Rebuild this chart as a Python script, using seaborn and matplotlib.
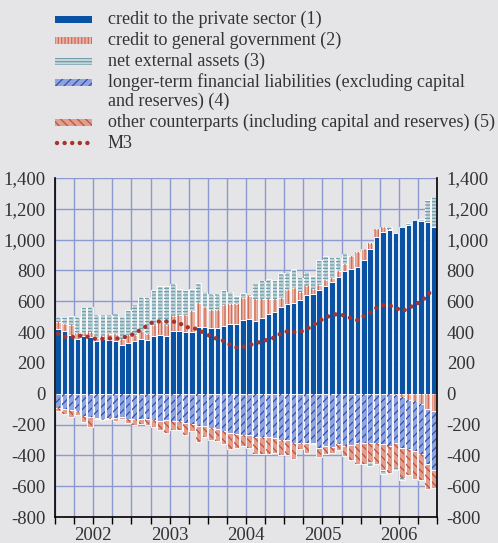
import numpy as np
import pandas as pd
import matplotlib.pyplot as plt
import seaborn as sns
from matplotlib.patches import Rectangle
from matplotlib.lines import Line2D

# Dados mensais (jan 2002 - dez 2006), fluxos anuais em EUR bilhões
anos = ['2002', '2003', '2004', '2005', '2006']

credito_privado = [421, 410, 382, 356, 374, 367, 339, 356, 350, 345, 319, 330,
                   339, 356, 350, 374, 382, 374, 404, 408, 400, 400, 436, 432,
                   426, 425, 441, 454, 454, 480, 486, 469, 493, 519, 530, 562,
                   584, 588, 606, 638, 649, 675, 699, 725, 758, 797, 812, 823,
                   866, 942, 1018, 1051, 1061, 1044, 1079, 1094, 1127, 1120, 1116, 1083]

credito_governo = [44, 44, 61, 39, 21, 33, 22, 18, 39, 44, 37, 48,
                   43, 48, 39, 69, 93, 75, 100, 105, 114, 138, 152, 133,
                   119, 120, 136, 126, 131, 143, 148, 143, 119, 93, 82, 61,
                   87, 98, 54, 59, 33, 33, 37, 28, 37, 47, 80, 97,
                   76, 33, 48, 32, 9, -10, -20, -40, -45, -65, -100, -110]

ativos_externos = [32, 37, 59, 102, 161, 162, 151, 138, 123, 130, 141, 163,
                   191, 223, 234, 232, 222, 248, 210, 167, 161, 144, 128, 93,
                   104, 104, 93, 80, 49, 33, 8, 102, 119, 130, 128, 163,
                   119, 121, 93, 93, 80, 158, 156, 131, 89, 61, 0, 0,
                   0, -28, 0, -26, 13, -11, -13, 11, 0, 13, 141, 195]

passivos_longo_prazo = [-93, -100, -106, -111, -143, -150, -158, -165, -158, -158, -154, -161,
                        -161, -165, -165, -171, -176, -172, -176, -180, -187, -197, -208, -208,
                        -224, -230, -241, -258, -263, -269, -269, -278, -284, -284, -289, -302,
                        -302, -317, -321, -317, -317, -349, -339, -343, -328, -339, -332, -321,
                        -321, -317, -321, -328, -339, -311, -329, -321, -329, -326, -354, -386]

outras_contrapartidas = [-22, -32, -44, -26, -39, -65, -7, -6, -4, -22, -7, -30,
                         -43, -32, -39, -42, -61, -84, -61, -58, -82, -48, -105, -70,
                         -76, -80, -87, -102, -86, -70, -85, -115, -109, -109, -97, -95,
                         -95, -104, -39, -65, -11, -59, -49, -43, -37, -65, -100, -133,
                         -133, -124, -137, -165, -173, -163, -200, -167, -181, -169, -167, -117]

m3 = [389, 371, 367, 372, 380, 364, 355, 356, 360, 356, 364, 373,
      390, 417, 442, 469, 469, 469, 469, 460, 432, 430, 415, 394,
      371, 356, 343, 318, 300, 303, 316, 326, 342, 351, 365, 391,
      405, 400, 402, 418, 444, 472, 495, 511, 518, 507, 490, 477,
      503, 524, 557, 574, 573, 558, 536, 553, 580, 596, 643, 682]

legendas = ['credit to the private sector (1)',
            'credit to general government (2)',
            'net external assets (3)',
            'longer-term financial liabilities (excluding capital',
            'other counterparts (including capital and reserves) (5)',
            'M3']
legenda_extra = 'and reserves) (4)'

# Cores
FUNDO = '#e5e5e7'
GRADE = '#8c99cf'
AZUL = '#0a52a3'
GOV_F, GOV_H = '#e8b3a4', '#cf6c58'
EXT_F, EXT_H = '#c3d5da', '#6f9daa'
LTFL_F, LTFL_H = '#90a3dc', '#2b52b8'
OUT_F, OUT_H = '#df9e8e', '#c1503d'
VERM = '#a8322d'
TEXTO = '#333333'

sns.set_style('white')
plt.rcParams['font.family'] = ['Liberation Serif', 'DejaVu Serif']
plt.rcParams['hatch.linewidth'] = 0.9

df = pd.DataFrame({'privado': credito_privado, 'governo': credito_governo,
                   'externo': ativos_externos, 'ltfl': passivos_longo_prazo,
                   'outras': outras_contrapartidas, 'm3': m3})
x = np.arange(len(df))

gov = df['governo'].to_numpy()
gov_pos = np.clip(gov, 0, None)
gov_neg = np.clip(gov, None, 0)
ltfl = df['ltfl'].to_numpy()
outras = df['outras'].to_numpy()
ext = df['externo'].to_numpy()
privado = df['privado'].to_numpy()

base_gov = np.where(gov >= 0, privado, 0)
base_ltfl = gov_neg
base_outras = gov_neg + ltfl
base_ext = np.where(ext >= 0, privado + gov_pos, gov_neg + ltfl + outras)

W, H = 498, 543
fig = plt.figure(figsize=(W / 100, H / 100), dpi=100, facecolor=FUNDO)
ax = fig.add_axes([55 / W, 1 - 517 / H, 382 / W, 339 / H], facecolor=FUNDO)

LARG = 0.86
sns.barplot(x=x, y=privado, color=AZUL, saturation=1, width=LARG,
            edgecolor='white', linewidth=0.6, ax=ax, zorder=2)


def barras(vals, base, face, hatch, hcor):
    m = vals != 0
    ax.bar(x[m], vals[m], bottom=base[m], width=LARG, color=face,
           edgecolor='white', linewidth=0.6, zorder=2)
    ax.bar(x[m], vals[m], bottom=base[m], width=LARG - 0.2, color='none',
           edgecolor=hcor, hatch=hatch, linewidth=0, zorder=3)


barras(gov, base_gov, GOV_F, '|||||', GOV_H)
barras(ext, base_ext, EXT_F, '-----', EXT_H)
barras(ltfl, base_ltfl, LTFL_F, '////', LTFL_H)
barras(outras, base_outras, OUT_F, '\\\\\\\\', OUT_H)

PONTOS = (0, (0.01, 1.7))
sns.lineplot(x=x, y=df['m3'], color=VERM, linewidth=3.2, ax=ax, zorder=5)
linha = ax.lines[-1]
linha.set_linestyle(PONTOS)
linha.set_dash_capstyle('round')

ax.set_xlim(-0.5, 59.5)
ax.set_ylim(-800, 1400)
ax.set_xlabel('')
ax.set_ylabel('')

yt = np.arange(-800, 1401, 200)
ax.set_yticks(yt)
ax.set_yticklabels([f'{v:,}' for v in yt])
ax.tick_params(axis='y', left=False, right=False, length=0, labelleft=True,
               labelright=True, labelsize=13.5, pad=7, labelcolor=TEXTO)

ax.set_xticks(np.arange(-0.5, 60, 3))
ax.set_xticklabels([])
ax.tick_params(axis='x', which='major', bottom=True, length=5, width=1,
               color='black', direction='out')

# rótulos dos anos centrados em cada ano
for i, ano in enumerate(anos):
    ax.text(5.5 + 12 * i, -0.056, ano, transform=ax.get_xaxis_transform(),
            ha='center', va='center', fontsize=13.5, color=TEXTO, clip_on=False)

ax.grid(True, which='major', color=GRADE, linewidth=1.0, zorder=0)
ax.set_axisbelow(True)
for lado in ['left', 'right', 'bottom']:
    ax.spines[lado].set_visible(True)
    ax.spines[lado].set_color('black')
    ax.spines[lado].set_linewidth(1.2)
ax.spines['top'].set_visible(False)

# Legenda manual no topo
estilos = [(AZUL, None, AZUL), (GOV_F, '|||||', GOV_H), (EXT_F, '-----', EXT_H),
           (LTFL_F, '////', LTFL_H), (OUT_F, '\\\\\\\\', OUT_H)]
linhas_y = [19, 40, 61, 82, 122]
for (face, hatch, hcor), yy, rotulo in zip(estilos, linhas_y, legendas[:5]):
    r = Rectangle((55 / W, 1 - (yy + 3.5) / H), 37 / W, 7 / H,
                  transform=fig.transFigure, facecolor=face,
                  edgecolor=hcor if hatch else 'none', hatch=hatch, linewidth=0)
    fig.add_artist(r)
    fig.text(108 / W, 1 - yy / H, rotulo, fontsize=13, color=TEXTO,
             va='center', ha='left')
fig.text(108 / W, 1 - 101 / H, legenda_extra, fontsize=13, color=TEXTO,
         va='center', ha='left')

leg_m3 = Line2D([57 / W, 92 / W], [1 - 143 / H, 1 - 143 / H],
                transform=fig.transFigure, color=VERM, linewidth=3.2,
                linestyle=PONTOS, dash_capstyle='round')
fig.add_artist(leg_m3)
fig.text(108 / W, 1 - 143 / H, legendas[5], fontsize=13, color=TEXTO,
         va='center', ha='left')

fig.savefig('out.png', dpi=100, facecolor=FUNDO)
